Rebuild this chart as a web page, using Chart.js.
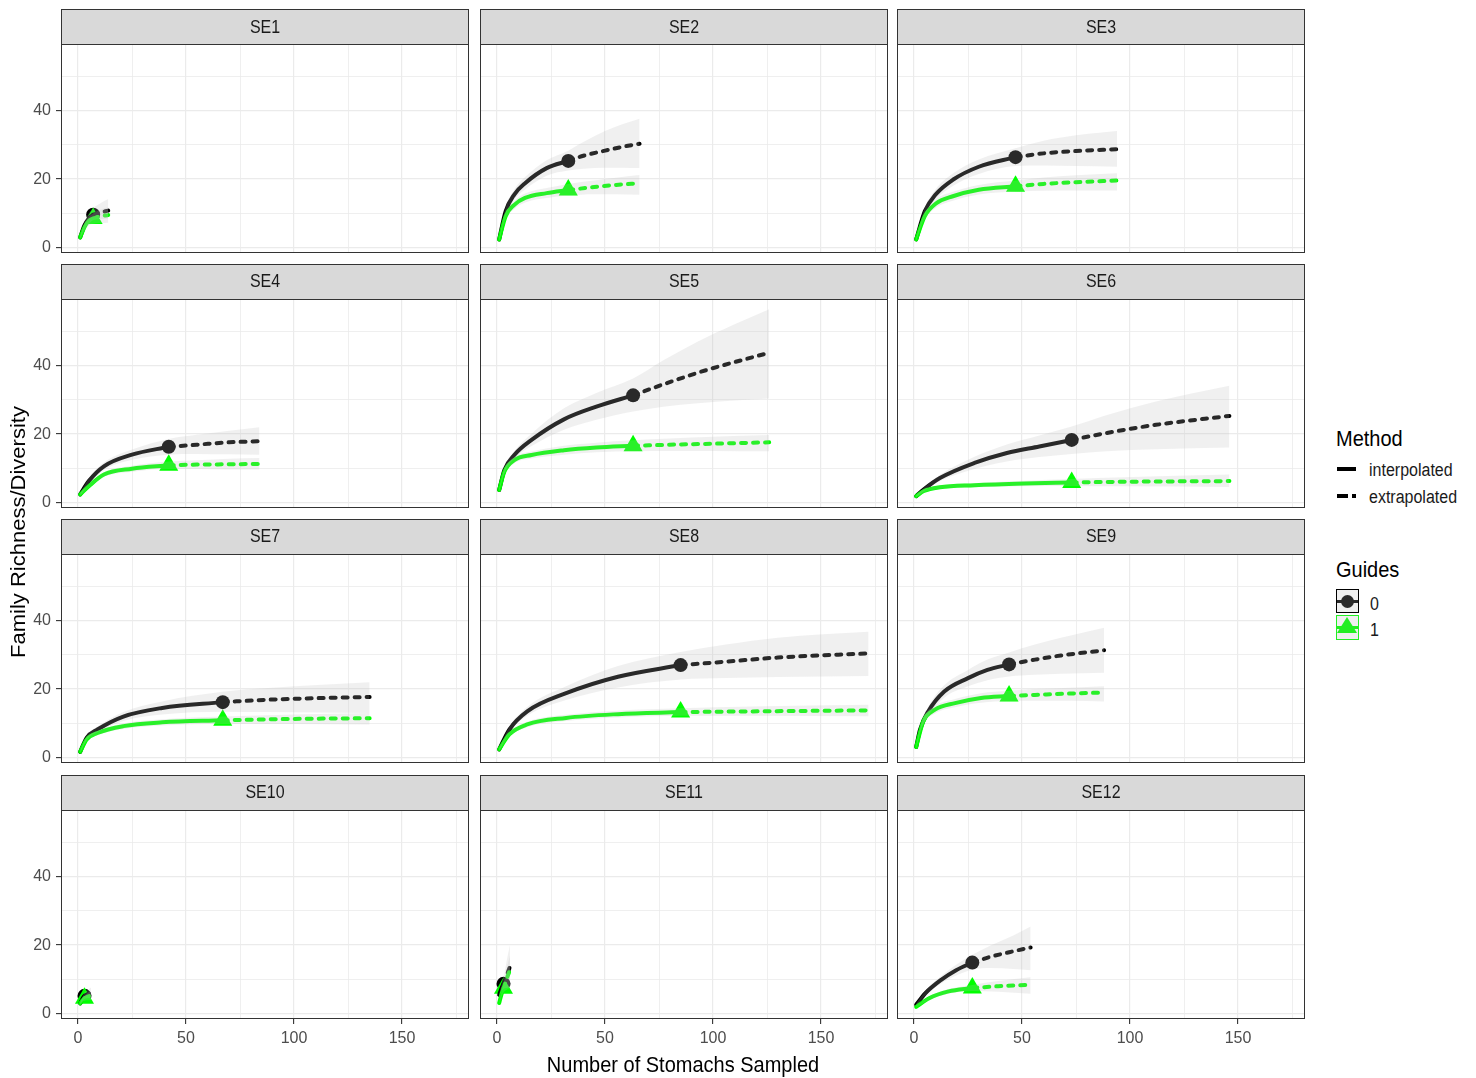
<!DOCTYPE html>
<html>
<head>
<meta charset="utf-8">
<script src="https://cdn.jsdelivr.net/npm/chart.js"></script>
<style>
    html, body { margin: 0; padding: 0; background: #ffffff; }
    #page { position: relative; width: 1476px; height: 1078px; overflow: hidden; background: #ffffff;
            font-family: "Liberation Sans", Arial, Helvetica, sans-serif; }
    .strip { position: absolute; box-sizing: border-box; background: #d9d9d9; border: 1px solid #333333;
             color: #1a1a1a; font-size: 16px; text-align: center; line-height: 34px; }
    .strip span { display: inline-block; transform: scaleY(1.1); }
    .frame { position: absolute; box-sizing: border-box; border: 1px solid #333333; pointer-events: none; }
    .txt { position: absolute; white-space: nowrap; transform-origin: left top; }
    .abs { position: absolute; }
</style>
</head>
<body>
<div id="page"></div>
<script>
// ---- data ----
const sites = ["SE1", "SE2", "SE3", "SE4", "SE5", "SE6", "SE7", "SE8", "SE9", "SE10", "SE11", "SE12"];
// observed number of stomachs (reference sample size) per site
const refSize = [7, 33, 47, 42, 63, 73, 67, 85, 44, 3, 3, 27];

// each row: [stomachs sampled, richness, lower CI, upper CI]
const se1Guide0 = [[1, 3, 2.5, 3.5], [3, 6.5, 5.5, 7.5], [5, 8.5, 7, 10], [7, 9.6, 8, 11.5], [10, 10.2, 8.3, 12.8], [14, 10.8, 8.5, 14.2]];
const se1Guide1 = [[1, 3, 2.5, 3.5], [3, 6, 5, 7], [5, 7.8, 6.5, 9], [7, 8.5, 7, 10], [10, 9.1, 7.2, 11], [14, 9.5, 7.3, 11.8]];
const se2Guide0 = [[1, 2.4, 2, 2.8], [4, 10.6, 9.5, 11.7], [8, 15.5, 14, 17], [13, 18.8, 17, 20.6], [23, 23.2, 21, 25.5], [33, 25.3, 22.5, 28.3], [40, 26.8, 23, 30.8], [50, 28.3, 23.3, 34], [58, 29.4, 23.3, 36], [66, 30.3, 23.2, 37.6]];
const se2Guide1 = [[1, 2.4, 2, 2.8], [4, 9.2, 8.3, 10], [8, 12.5, 11.3, 13.7], [13, 14.5, 13.2, 15.8], [23, 15.9, 14.5, 17.4], [33, 16.8, 15.2, 18.6], [45, 17.7, 15.6, 19.6], [55, 18.3, 15.6, 20.4], [66, 18.8, 15.4, 21.2]];
const se3Guide0 = [[1, 2.4, 2, 2.8], [5, 10.6, 9.5, 11.7], [10, 15.5, 14, 17], [18, 19.8, 18, 21.6], [30, 23.6, 21.5, 25.7], [47, 26.4, 23.8, 29], [60, 27.5, 24, 31.2], [75, 28.2, 23.8, 32.8], [94, 28.7, 23.6, 34]];
const se3Guide1 = [[1, 2.4, 2, 2.8], [5, 9.2, 8.3, 10], [10, 12.8, 11.6, 14], [18, 15, 13.7, 16.3], [30, 16.9, 15.5, 18.3], [47, 17.9, 16.4, 19.6], [60, 18.6, 16.6, 20.5], [75, 19.1, 16.7, 21.1], [94, 19.6, 16.7, 21.7]];
const se4Guide0 = [[1, 2.4, 2, 2.8], [5, 6.3, 5.5, 7.1], [12, 10.6, 9.5, 11.7], [25, 14, 12.5, 15.5], [42, 16.3, 14, 18.6], [55, 16.9, 14.2, 19.8], [70, 17.6, 14.1, 21], [84, 17.9, 14, 22]];
const se4Guide1 = [[1, 2.4, 2, 2.8], [5, 4.8, 4.3, 5.3], [12, 8.2, 7.5, 8.9], [25, 9.9, 9, 10.8], [42, 10.9, 9.8, 12], [55, 11.1, 9.8, 12.4], [70, 11.2, 9.7, 12.8], [84, 11.3, 9.7, 13]];
const se5Guide0 = [[1, 3.7, 3.3, 4.1], [3.4, 9.5, 8.7, 10.3], [8, 13.9, 12.8, 15], [16, 18.3, 16.5, 20.1], [31, 24.3, 21.3, 27.5], [46, 28, 24.2, 32], [63, 31.3, 26.6, 36.2], [77, 34.5, 28, 41.5], [93, 37.9, 29, 47], [110, 41, 29.8, 52], [126, 43.7, 30.4, 56.4]];
const se5Guide1 = [[1, 3.7, 3.3, 4.1], [3.4, 9, 8.3, 9.7], [8, 12.4, 11.5, 13.3], [16, 13.9, 12.9, 14.9], [31, 15.3, 14, 16.6], [46, 16.1, 14.7, 17.5], [63, 16.6, 15, 18.2], [80, 16.9, 15.1, 18.7], [100, 17.2, 15.1, 19.2], [126, 17.6, 15, 19.7]];
const se6Guide0 = [[1, 1.9, 1.6, 2.2], [4.6, 3.9, 3.4, 4.4], [12, 7.2, 6.3, 8.1], [28, 11.6, 9.8, 13.4], [43, 14.5, 12, 17], [58, 16.4, 13.3, 19.6], [73, 18.3, 14.2, 22.2], [89, 20.3, 15, 25.5], [112, 22.7, 15.6, 29.5], [146, 25.3, 16.1, 34.1]];
const se6Guide1 = [[1, 1.9, 1.6, 2.2], [4.6, 3.4, 3, 3.8], [12, 4.5, 4, 5], [28, 5.1, 4.5, 5.7], [51, 5.6, 4.8, 6.4], [73, 5.9, 4.9, 6.9], [97, 6.1, 4.8, 7.4], [146, 6.3, 4.6, 8.2]];
const se7Guide0 = [[1, 1.7, 1.4, 2], [4, 5.8, 5.2, 6.4], [9, 8.2, 7.4, 9], [21, 12, 10.7, 13.3], [39, 14.5, 12.6, 16.4], [67, 16.2, 13.4, 19.2], [88, 16.9, 13.3, 20.3], [113, 17.4, 13.2, 21.3], [135, 17.7, 13, 22]];
const se7Guide1 = [[1, 1.7, 1.4, 2], [4, 5.3, 4.8, 5.8], [9, 7.2, 6.6, 7.8], [21, 9.2, 8.4, 10], [39, 10.3, 9.4, 11.2], [67, 10.9, 9.8, 12], [100, 11.3, 9.8, 12.6], [135, 11.5, 9.7, 13]];
const se8Guide0 = [[1, 2.4, 2, 2.8], [5.7, 8.2, 7.4, 9], [14, 13.5, 12.2, 14.8], [32, 18.8, 16.8, 20.8], [56, 23.6, 20.5, 26.7], [85, 27, 22.8, 30.8], [106, 28, 23.2, 33], [130, 29.2, 23.5, 35], [172, 30.4, 23.8, 36.7]];
const se8Guide1 = [[1, 2.4, 2, 2.8], [5.7, 6.8, 6.2, 7.4], [14, 9.7, 8.9, 10.5], [32, 11.6, 10.7, 12.5], [56, 12.7, 11.7, 13.7], [85, 13.3, 12.2, 14.4], [118, 13.5, 12.2, 14.9], [172, 13.8, 12.1, 15.4]];
const se9Guide0 = [[1, 3.1, 2.7, 3.5], [2.8, 8.2, 7.4, 9], [6.6, 13.5, 12.2, 14.8], [14, 19.3, 17.5, 21.1], [25, 23.2, 20.8, 25.6], [34, 25.6, 22.6, 28.6], [44, 27.2, 23.7, 30.7], [56, 28.6, 24.2, 33], [68, 29.8, 24.5, 35], [88, 31.3, 24.8, 37.9]];
const se9Guide1 = [[1, 3.1, 2.7, 3.5], [4.3, 10.6, 9.7, 11.5], [9.7, 14, 12.9, 15.1], [19, 15.9, 14.7, 17.1], [31, 17.4, 16, 18.8], [44, 18, 16.5, 19.5], [56, 18.3, 16.6, 20], [72, 18.7, 16.6, 20.4], [88, 19, 16.4, 20.8]];
const se10Guide0 = [[1, 3, 2.6, 3.4], [2, 4.3, 3.7, 4.9], [3, 5.2, 4.3, 6.1], [4.5, 5.7, 4.5, 6.9], [6, 6, 4.6, 7.6]];
const se10Guide1 = [[1, 3, 2.6, 3.4], [2, 3.9, 3.4, 4.4], [3, 4.5, 3.8, 5.2], [4.5, 5, 3.9, 6.1], [6, 5.3, 4, 6.6]];
const se11Guide0 = [[1, 5.5, 5, 6], [2, 7.3, 6.4, 8.2], [3, 8.7, 7.2, 10.3], [4.5, 11.2, 7.5, 15.5], [6, 13.7, 7.8, 20]];
const se11Guide1 = [[1, 3.1, 2.7, 3.5], [2, 5.5, 4.8, 6.2], [3, 7.4, 6.2, 8.6], [4.5, 10.2, 7, 13.2], [6, 12.8, 7.5, 17]];
const se12Guide0 = [[1, 2.6, 2.2, 3], [5.3, 6, 5.3, 6.7], [12.4, 9.8, 8.7, 10.9], [19.5, 12.7, 11.1, 14.3], [27, 14.9, 12.8, 17.2], [35.5, 16.6, 13.3, 19.9], [46, 18.2, 13, 22.8], [54, 19.3, 12.7, 25.4]];
const se12Guide1 = [[1, 2, 1.7, 2.3], [7, 4.5, 4, 5], [16, 6.5, 5.8, 7.2], [27, 7.5, 6.6, 8.4], [39, 8, 6.4, 9.5], [54, 8.4, 5.8, 10.6]];

const guide0Curves = [se1Guide0, se2Guide0, se3Guide0, se4Guide0, se5Guide0, se6Guide0, se7Guide0, se8Guide0, se9Guide0, se10Guide0, se11Guide0, se12Guide0];
const guide1Curves = [se1Guide1, se2Guide1, se3Guide1, se4Guide1, se5Guide1, se6Guide1, se7Guide1, se8Guide1, se9Guide1, se10Guide1, se11Guide1, se12Guide1];

const xGridValues = [0, 25, 50, 75, 100, 125, 150, 175];
const xTickLabels = [0, 50, 100, 150];
const yGridValues = [0, 10, 20, 30, 40, 50];
const yTickLabels = [0, 20, 40];

// ---- layout ----
const page = document.getElementById("page");
const fontFamily = '"Liberation Sans", Arial, Helvetica, sans-serif';
const colLeft = [61, 480, 897];
const rowTop = [9, 264, 519, 775];
const panelW = 408, stripH = 36, plotH = 208;
const yAxisW = 61, xAxisH = 40;
const xMin = -7.87, xMax = 181, yMin = -1.55, yMax = 59.1;
const bandFill = "rgba(185,185,185,0.22)";
const guideColor = ["#000000", "#00ff00"];
const guideShape = ["circle", "triangle"];
const guideRadius = [7, 11];

function toXY(rows, k) {
    return rows.map((p) => ({ x: p[0], y: p[k] }));
}

function guideDatasets(curve, n, g) {
    const base = { pointRadius: 0, pointHoverRadius: 0, cubicInterpolationMode: "monotone" };
    return [
        // ribbon: upper edge, then lower edge filled to it (drawn on top, as in the original)
        Object.assign({}, base, { data: toXY(curve, 3), borderColor: "rgba(0,0,0,0)", borderWidth: 0, fill: false, order: 1 }),
        Object.assign({}, base, { data: toXY(curve, 2), borderColor: "rgba(0,0,0,0)", borderWidth: 0, fill: "-1", backgroundColor: bandFill, order: 1 }),
        // interpolated
        Object.assign({}, base, {
            data: toXY(curve.filter((p) => p[0] <= n), 1),
            borderColor: guideColor[g], borderWidth: 4, borderCapStyle: "round", borderJoinStyle: "round",
            fill: false, order: 5 - g,
        }),
        // extrapolated
        Object.assign({}, base, {
            data: toXY(curve.filter((p) => p[0] >= n), 1),
            borderColor: guideColor[g], borderWidth: 4, borderDash: [5, 7], borderCapStyle: "round",
            fill: false, order: 5 - g,
        }),
        // observed
        {
            data: toXY(curve.filter((p) => p[0] === n), 1),
            showLine: false, pointStyle: guideShape[g], pointRadius: guideRadius[g], pointHoverRadius: guideRadius[g],
            pointBackgroundColor: guideColor[g], pointBorderWidth: 0, order: 9 - g,
        },
    ];
}

function addText(text, left, top, size, extra) {
    const d = document.createElement("div");
    d.className = "txt";
    d.style.left = left + "px";
    d.style.top = top + "px";
    d.style.fontSize = size + "px";
    d.style.lineHeight = size + "px";
    d.style.color = "#000000";
    d.textContent = text;
    if (extra) Object.assign(d.style, extra);
    page.appendChild(d);
    return d;
}

function addBox(left, top, w, h, css) {
    const d = document.createElement("div");
    d.className = "abs";
    d.style.left = left + "px";
    d.style.top = top + "px";
    d.style.width = w + "px";
    d.style.height = h + "px";
    if (css) Object.assign(d.style, css);
    page.appendChild(d);
    return d;
}

sites.forEach((site, i) => {
    const r = Math.floor(i / 3), c = i % 3;
    const left = colLeft[c], top = rowTop[r] + stripH;
    const yw = c === 0 ? yAxisW : 0;
    const xh = r === 3 ? xAxisH : 0;

    const wrap = document.createElement("div");
    wrap.className = "abs";
    wrap.style.left = (left - yw) + "px";
    wrap.style.top = top + "px";
    wrap.style.width = (panelW + yw) + "px";
    wrap.style.height = (plotH + xh) + "px";
    const canvas = document.createElement("canvas");
    wrap.appendChild(canvas);
    page.appendChild(wrap);

    const frame = document.createElement("div");
    frame.className = "frame";
    frame.style.left = left + "px";
    frame.style.top = (top - 1) + "px";
    frame.style.width = panelW + "px";
    frame.style.height = (plotH + 1) + "px";
    page.appendChild(frame);

    const strip = document.createElement("div");
    strip.className = "strip";
    strip.style.left = left + "px";
    strip.style.top = rowTop[r] + "px";
    strip.style.width = panelW + "px";
    strip.style.height = stripH + "px";
    const label = document.createElement("span");
    label.textContent = site;
    strip.appendChild(label);
    page.appendChild(strip);

    const datasets = guideDatasets(guide0Curves[i], refSize[i], 0).concat(guideDatasets(guide1Curves[i], refSize[i], 1));

    new Chart(canvas, {
        type: "line",
        data: { datasets: datasets },
        options: {
            responsive: true,
            maintainAspectRatio: false,
            animation: false,
            events: [],
            layout: { padding: 0, autoPadding: false },
            plugins: { legend: { display: false }, tooltip: { enabled: false } },
            scales: {
                x: {
                    type: "linear",
                    min: xMin,
                    max: xMax,
                    border: { display: false },
                    afterBuildTicks: (s) => { s.ticks = xGridValues.map((v) => ({ value: v })); },
                    afterFit: (s) => { s.height = xh; s.paddingLeft = 0; s.paddingRight = 0; s.paddingTop = 0; s.paddingBottom = 0; },
                    grid: {
                        color: "#ebebeb",
                        lineWidth: (ctx) => (ctx.tick && xTickLabels.includes(ctx.tick.value) ? 1.2 : 0.8),
                        drawTicks: r === 3,
                        tickLength: 5,
                        tickWidth: 1.1,
                        tickColor: (ctx) => (ctx.tick && xTickLabels.includes(ctx.tick.value) ? "#333333" : "rgba(0,0,0,0)"),
                    },
                    ticks: {
                        display: r === 3,
                        autoSkip: false,
                        maxRotation: 0,
                        padding: 5,
                        color: "#4d4d4d",
                        font: { family: fontFamily, size: 16 },
                        callback: (v) => (xTickLabels.includes(v) ? String(v) : ""),
                    },
                },
                y: {
                    type: "linear",
                    min: yMin,
                    max: yMax,
                    border: { display: false },
                    afterBuildTicks: (s) => { s.ticks = yGridValues.map((v) => ({ value: v })); },
                    afterFit: (s) => { s.width = yw; s.paddingLeft = 0; s.paddingRight = 0; s.paddingTop = 0; s.paddingBottom = 0; },
                    grid: {
                        color: "#ebebeb",
                        lineWidth: (ctx) => (ctx.tick && yTickLabels.includes(ctx.tick.value) ? 1.2 : 0.8),
                        drawTicks: c === 0,
                        tickLength: 5,
                        tickWidth: 1.1,
                        tickColor: (ctx) => (ctx.tick && yTickLabels.includes(ctx.tick.value) ? "#333333" : "rgba(0,0,0,0)"),
                    },
                    ticks: {
                        display: c === 0,
                        autoSkip: false,
                        padding: 5,
                        color: "#4d4d4d",
                        font: { family: fontFamily, size: 16 },
                        callback: (v) => (yTickLabels.includes(v) ? String(v) : ""),
                    },
                },
            },
        },
    });
});

// ---- axis titles ----
const xTitle = addText("Number of Stomachs Sampled", 0, 1053, 20, { width: "1366px", textAlign: "center", transform: "scaleY(1.1)" });
const yTitle = addText("Family Richness/Diversity", 18 - 150, 531.5 - 10, 20, {
    width: "300px", textAlign: "center", transformOrigin: "50% 50%", transform: "rotate(-90deg) scaleX(1.1)",
});

// ---- legend ----
addText("Method", 1336, 427, 20, { transform: "scaleY(1.1)" });
addBox(1337, 467, 19, 4, { background: "#000000" });
addText("interpolated", 1369, 462, 16, { color: "#1a1a1a", transform: "scaleY(1.1)" });
addBox(1337, 494, 11, 4, { background: "#000000" });
addBox(1352, 494, 4, 4, { background: "#000000" });
addText("extrapolated", 1369, 489, 16, { color: "#1a1a1a", transform: "scaleY(1.1)" });

addText("Guides", 1336, 558, 20, { transform: "scaleY(1.1)" });
const key0 = addBox(1336, 589, 23, 24, { boxSizing: "border-box", border: "1px solid #000000", background: "#efefef" });
addBox(1337, 600, 21, 3, { background: "#2a2a2a" });
addBox(1341, 595, 13, 13, { background: "#2a2a2a", borderRadius: "50%" });
addText("0", 1370, 596, 16, { color: "#1a1a1a", transform: "scaleY(1.1)" });
const key1 = addBox(1336, 615, 23, 25, { boxSizing: "border-box", border: "1px solid #22ee22", background: "#efefef" });
addBox(1337, 626, 21, 3, { background: "#22ee22" });
addBox(1337, 617, 0, 0, { borderLeft: "10.5px solid transparent", borderRight: "10.5px solid transparent", borderBottom: "16px solid #22ee22" });
addText("1", 1370, 622, 16, { color: "#1a1a1a", transform: "scaleY(1.1)" });
</script>
</body>
</html>
